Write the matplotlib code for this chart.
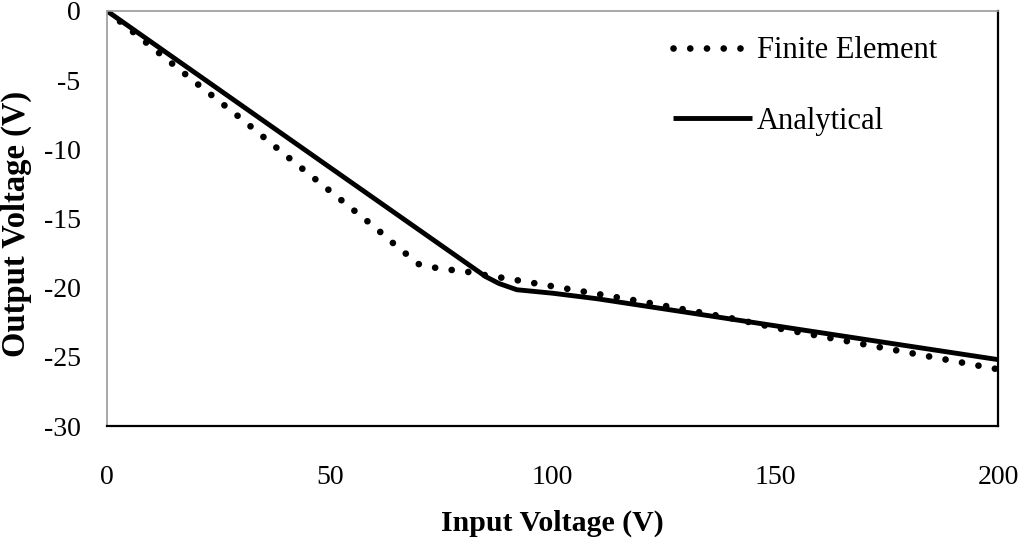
import matplotlib
matplotlib.use("Agg")
import matplotlib.pyplot as plt

# Finite element result
fe_vin = [0, 10, 20, 30, 40, 50, 60, 65, 70, 75, 80, 85, 90, 100, 110,
          120, 130, 140, 150, 160, 170, 180, 190, 200]
fe_vout = [0, -2.6, -5.2, -7.75, -10.4, -13.0, -15.6, -17.0, -18.3, -18.65,
           -18.8, -19.1, -19.35, -19.9, -20.45, -21.0, -21.6, -22.2, -22.9,
           -23.5, -24.1, -24.7, -25.3, -25.9]

# Analytical result (solid curve)
an_vin = [0, 50, 85, 88, 92, 100, 110, 200]
an_vout = [0, -11.3, -19.2, -19.7, -20.15, -20.4, -20.8, -25.2]

xticks = [0, 50, 100, 150, 200]
yticks = [0, -5, -10, -15, -20, -25, -30]

plt.rcParams['font.family'] = ['Liberation Serif', 'DejaVu Serif']
plt.rcParams['axes.unicode_minus'] = False

fig = plt.figure(figsize=(10.24, 5.44), dpi=100)
ax = fig.add_axes([0.1045, 0.2169, 0.8701, 0.7629])

ax.plot(fe_vin, fe_vout, color='black', linewidth=4.8,
        linestyle=(0, (0.01, 2.5)), dash_capstyle='round',
        label='Finite Element')
ax.plot(an_vin, an_vout, color='black', linewidth=3.5,
        solid_capstyle='butt', label='Analytical')

ax.set_xlim(0, 200)
ax.set_ylim(-30, 0)
ax.set_xticks(xticks)
ax.set_yticks(yticks)
ax.tick_params(length=0, labelsize=20)
ax.tick_params(axis='x', pad=28)
ax.tick_params(axis='y', pad=19)

for side in ['left', 'top']:
    ax.spines[side].set_color('#9a9a9a')
    ax.spines[side].set_linewidth(1.2)
for side in ['right', 'bottom']:
    ax.spines[side].set_color('black')
    ax.spines[side].set_linewidth(1.6)

ax.set_xlabel('Input Voltage (V)', fontsize=21.5, fontweight='bold', labelpad=14)
ax.set_ylabel('Output Voltage (V)', fontsize=23.5, fontweight='bold')
ax.yaxis.set_label_coords(-0.084, 0.487)

ax.legend(loc='upper left', bbox_to_anchor=(0.657, 0.933),
          bbox_transform=fig.transFigure, frameon=False, fontsize=22,
          handlelength=2.6, handletextpad=0.15, labelspacing=1.35,
          borderpad=0, borderaxespad=0)

fig.savefig('out.png', dpi=100)
